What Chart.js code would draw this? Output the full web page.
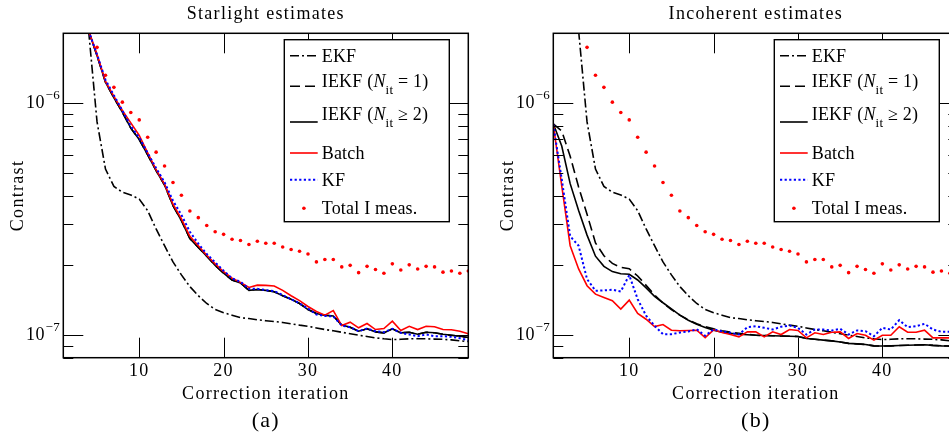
<!DOCTYPE html>
<html>
<head>
<meta charset="utf-8">
<script src="https://cdn.jsdelivr.net/npm/chart.js@4.4.1/dist/chart.umd.min.js"></script>
<style>
  html, body { margin: 0; padding: 0; background: #fff; }
  body { width: 949px; height: 433px; overflow: hidden; position: relative; }
  canvas { position: absolute; top: 0; }
  #starlightChart { left: 0; }
  #incoherentChart { left: 490px; }
</style>
</head>
<body>
<canvas id="starlightChart" width="480" height="433"></canvas>
<canvas id="incoherentChart" width="480" height="433"></canvas>
<script>
// Correction iterations (x axis)
const iterations = [1, 2, 3, 4, 5, 6, 7, 8, 9, 10, 11, 12, 13, 14, 15, 16, 17, 18, 19, 20,
  21, 22, 23, 24, 25, 26, 27, 28, 29, 30, 31, 32, 33, 34, 35, 36, 37, 38, 39, 40,
  41, 42, 43, 44, 45, 46, 47, 48, 49];

// Tick labels
const xTicks = [10, 20, 30, 40];
const yTickValues = [8e-8, 9e-8, 1e-7, 2e-7, 3e-7, 4e-7, 5e-7, 6e-7, 7e-7, 8e-7, 9e-7, 1e-6, 2e-6];
const yMajorValues = [1e-7, 1e-6];
const yMajorBase = '10';
const yMajorExponents = ['−7', '−6'];

// Shared by both panels
const ekf = [null, null, null, 2.05e-6, 8.3e-7, 5.2e-7, 4.38e-7, 4.13e-7, 4.02e-7, 3.86e-7,
  3.44e-7, 2.87e-7, 2.43e-7, 2.07e-7, 1.82e-7, 1.62e-7, 1.48e-7, 1.37e-7, 1.29e-7, 1.25e-7,
  1.22e-7, 1.19e-7, 1.18e-7, 1.166e-7, 1.155e-7, 1.146e-7, 1.135e-7, 1.12e-7, 1.105e-7, 1.093e-7,
  1.075e-7, 1.058e-7, 1.045e-7, 1.03e-7, 1.015e-7, 1.0e-7, 9.87e-8, 9.74e-8, 9.65e-8, 9.58e-8,
  9.6e-8, 9.65e-8, 9.65e-8, 9.65e-8, 9.62e-8, 9.6e-8, 9.55e-8, 9.46e-8, 9.39e-8];

const totalMeas = [null, null, null, null, 1.74e-6, 1.32e-6, 1.17e-6, 1.01e-6, 9.12e-7, 8.47e-7,
  7.13e-7, 6.15e-7, 5.36e-7, 4.55e-7, 4.01e-7, 3.43e-7, 3.21e-7, 2.97e-7, 2.79e-7, 2.72e-7,
  2.59e-7, 2.56e-7, 2.46e-7, 2.54e-7, 2.49e-7, 2.49e-7, 2.40e-7, 2.34e-7, 2.30e-7, 2.24e-7,
  2.07e-7, 2.12e-7, 2.12e-7, 1.97e-7, 2.00e-7, 1.86e-7, 1.98e-7, 1.92e-7, 1.85e-7, 2.03e-7,
  1.91e-7, 2.01e-7, 1.93e-7, 1.98e-7, 1.97e-7, 1.87e-7, 1.89e-7, 1.85e-7, 1.89e-7];

// (a) Starlight estimates
const starIekf = [null, null, null, 2.05e-6, 1.60e-6, 1.23e-6, 1.054e-6, 9.14e-7, 7.80e-7, 6.97e-7,
  5.98e-7, 5.12e-7, 4.44e-7, 3.62e-7, 3.12e-7, 2.61e-7, 2.39e-7, 2.19e-7, 2.00e-7, 1.85e-7,
  1.73e-7, 1.68e-7, 1.56e-7, 1.575e-7, 1.56e-7, 1.54e-7, 1.48e-7, 1.43e-7, 1.37e-7, 1.29e-7,
  1.24e-7, 1.22e-7, 1.21e-7, 1.105e-7, 1.083e-7, 1.04e-7, 1.066e-7, 1.034e-7, 1.024e-7, 1.066e-7,
  1.024e-7, 1.03e-7, 1.01e-7, 1.03e-7, 1.024e-7, 1.01e-7, 1.0e-7, 9.9e-8, 9.77e-8];
const starIekf1 = starIekf;

const starBatch = [null, null, null, 2.05e-6, 1.62e-6, 1.24e-6, 1.07e-6, 9.3e-7, 8.22e-7, 7.26e-7,
  6.1e-7, 5.17e-7, 4.48e-7, 3.67e-7, 3.17e-7, 2.67e-7, 2.43e-7, 2.21e-7, 2.03e-7, 1.877e-7,
  1.762e-7, 1.69e-7, 1.607e-7, 1.644e-7, 1.64e-7, 1.63e-7, 1.56e-7, 1.48e-7, 1.41e-7, 1.33e-7,
  1.265e-7, 1.22e-7, 1.278e-7, 1.10e-7, 1.138e-7, 1.076e-7, 1.123e-7, 1.058e-7, 1.069e-7, 1.149e-7,
  1.048e-7, 1.093e-7, 1.058e-7, 1.093e-7, 1.087e-7, 1.058e-7, 1.055e-7, 1.04e-7, 1.014e-7];

const starKf = [null, null, null, 2.05e-6, 1.62e-6, 1.26e-6, 1.08e-6, 9.3e-7, 7.95e-7, 7.1e-7,
  6.1e-7, 5.25e-7, 4.56e-7, 3.8e-7, 3.30e-7, 2.79e-7, 2.48e-7, 2.24e-7, 2.06e-7, 1.897e-7,
  1.757e-7, 1.70e-7, 1.585e-7, 1.585e-7, 1.565e-7, 1.549e-7, 1.49e-7, 1.43e-7, 1.37e-7, 1.304e-7,
  1.228e-7, 1.21e-7, 1.205e-7, 1.10e-7, 1.083e-7, 1.04e-7, 1.069e-7, 1.04e-7, 1.03e-7, 1.066e-7,
  1.024e-7, 1.007e-7, 9.9e-8, 1.007e-7, 9.9e-8, 9.9e-8, 9.84e-8, 9.71e-8, 9.52e-8];

// (b) Incoherent estimates
const incIekf1 = [8.14e-7, 7.59e-7, 5.9e-7, 4.35e-7, 3.32e-7, 2.5e-7, 2.2e-7, 2.04e-7, 1.96e-7, 1.935e-7,
  1.80e-7, 1.64e-7, 1.49e-7, 1.375e-7, 1.29e-7, 1.22e-7, 1.165e-7, 1.12e-7, 1.088e-7, 1.065e-7,
  1.045e-7, 1.03e-7, 1.02e-7, 1.01e-7, 1.0e-7, 9.97e-8, 9.95e-8, 9.92e-8, 9.9e-8, 9.88e-8,
  9.68e-8, 9.6e-8, 9.52e-8, 9.45e-8, 9.35e-8, 9.22e-8, 9.18e-8, 9.12e-8, 9.0e-8, 8.98e-8,
  9.0e-8, 9.03e-8, 9.05e-8, 9.07e-8, 9.1e-8, 9.04e-8, 9.0e-8, 8.98e-8, 8.97e-8];

const incIekf = [8.14e-7, 6.54e-7, 4.5e-7, 3.45e-7, 2.7e-7, 2.19e-7, 1.98e-7, 1.88e-7, 1.84e-7, 1.83e-7,
  1.73e-7, 1.60e-7, 1.47e-7, 1.38e-7, 1.30e-7, 1.22e-7, 1.16e-7, 1.116e-7, 1.08e-7, 1.05e-7,
  1.03e-7, 1.02e-7, 1.01e-7, 1.005e-7, 1.0e-7, 9.97e-8, 9.95e-8, 9.92e-8, 9.9e-8, 9.88e-8,
  9.68e-8, 9.6e-8, 9.52e-8, 9.45e-8, 9.35e-8, 9.22e-8, 9.18e-8, 9.12e-8, 9.0e-8, 8.98e-8,
  9.0e-8, 9.03e-8, 9.05e-8, 9.07e-8, 9.1e-8, 9.04e-8, 9.0e-8, 8.98e-8, 8.97e-8];

const incBatch = [8.1e-7, 4.4e-7, 2.43e-7, 1.93e-7, 1.634e-7, 1.503e-7, 1.454e-7, 1.408e-7, 1.295e-7, 1.416e-7,
  1.241e-7, 1.172e-7, 1.09e-7, 1.112e-7, 1.051e-7, 1.045e-7, 1.048e-7, 1.051e-7, 9.77e-8, 1.055e-7,
  1.027e-7, 1.007e-7, 9.84e-8, 1.034e-7, 1.034e-7, 9.84e-8, 1.034e-7, 1.007e-7, 1.058e-7, 1.048e-7,
  9.74e-8, 1.024e-7, 1.007e-7, 1.03e-7, 1.034e-7, 9.68e-8, 1.017e-7, 1.0e-7, 9.52e-8, 1.0e-7,
  1.0e-7, 1.087e-7, 1.03e-7, 1.03e-7, 1.051e-7, 9.74e-8, 9.74e-8, 9.74e-8, 9.74e-8];

const incKf = [8.1e-7, 4.7e-7, 2.67e-7, 2.43e-7, 1.745e-7, 1.554e-7, 1.56e-7, 1.57e-7, 1.544e-7, 1.815e-7,
  1.43e-7, 1.213e-7, 1.098e-7, 1.01e-7, 1.01e-7, 1.027e-7, 1.037e-7, 1.061e-7, 9.94e-8, 1.061e-7,
  1.04e-7, 1.024e-7, 1.007e-7, 1.083e-7, 1.093e-7, 1.076e-7, 1.058e-7, 1.087e-7, 1.101e-7, 1.076e-7,
  1.007e-7, 1.058e-7, 1.058e-7, 1.048e-7, 1.066e-7, 1.007e-7, 1.048e-7, 1.04e-7, 9.9e-8, 1.076e-7,
  1.058e-7, 1.161e-7, 1.083e-7, 1.093e-7, 1.12e-7, 1.058e-7, 1.034e-7, 1.034e-7, 1.034e-7];

const serif = '"Liberation Serif", "Times New Roman", serif';
Chart.defaults.font.family = serif;
Chart.defaults.color = '#000';

// Axis text in the figure is a little tracked out
const textSpacing = {
  id: 'textSpacing',
  beforeDraw(chart) {
    chart.ctx.letterSpacing = '1.3px';
  }
};

// Inward ticks on all four sides, the frame, and 10^n labels
const frameTicks = {
  id: 'frameTicks',
  afterDatasetsDraw(chart) {
    const { ctx, chartArea: a, scales: { x, y } } = chart;
    ctx.save();
    ctx.strokeStyle = '#000';
    ctx.lineWidth = 1;
    ctx.beginPath();
    x.ticks.forEach(t => {
      const px = Math.round(x.getPixelForValue(t.value)) + 0.5;
      ctx.moveTo(px, a.bottom); ctx.lineTo(px, a.bottom - 20);
      ctx.moveTo(px, a.top); ctx.lineTo(px, a.top + 20);
    });
    y.ticks.forEach(t => {
      const py = Math.round(y.getPixelForValue(t.value)) + 0.5;
      const exp = Math.log10(t.value);
      const len = Math.abs(exp - Math.round(exp)) < 1e-6 ? 20 : 10;
      ctx.moveTo(a.left, py); ctx.lineTo(a.left + len, py);
      ctx.moveTo(a.right, py); ctx.lineTo(a.right - len, py);
    });
    ctx.stroke();
    ctx.lineWidth = 1.5;
    ctx.strokeRect(a.left, a.top, a.right - a.left, a.bottom - a.top);

    // y labels: 10 with a raised exponent
    ctx.fillStyle = '#000';
    ctx.letterSpacing = '0.5px';
    yMajorValues.forEach((v, k) => {
      const py = y.getPixelForValue(v);
      const right = a.left - 18.3;
      ctx.font = '18px ' + serif;
      ctx.textAlign = 'right';
      ctx.textBaseline = 'middle';
      ctx.fillText(yMajorBase, right, py);
      ctx.font = '13px ' + serif;
      ctx.textAlign = 'left';
      ctx.textBaseline = 'alphabetic';
      ctx.fillText(yMajorExponents[k], right + 0.5, py - 4.5);
    });
    ctx.restore();
  }
};

const legendFont = '18px ' + serif;
const legendSubFont = '13px ' + serif;
const legendTextRows = [16.3, 41.3, 74.5, 113.6, 140.6, 168.3];
const legendLineRows = [16, 46.6, 82.3, 113.3, 140, 168.6];

function drawLegendLabel(ctx, label, x, baseline) {
  ctx.fillStyle = '#000';
  ctx.textAlign = 'left';
  ctx.textBaseline = 'alphabetic';
  ctx.font = legendFont;
  const m = label.match(/^(.*)N_it(.*)$/);
  if (!m) {
    ctx.fillText(label, x, baseline);
    return;
  }
  ctx.fillText(m[1], x, baseline);
  x += ctx.measureText(m[1]).width;
  ctx.font = 'italic ' + legendFont;
  ctx.fillText('N', x, baseline);
  x += ctx.measureText('N').width;
  ctx.font = legendSubFont;
  ctx.fillText('it', x, baseline + 7);
  x += ctx.measureText('it').width;
  ctx.font = legendFont;
  ctx.fillText(m[2], x, baseline);
}

// Boxed legend in the upper right of the plot
const boxLegend = {
  id: 'boxLegend',
  afterDraw(chart) {
    const { ctx, chartArea } = chart;
    const left = chartArea.left + 221;
    const top = chartArea.top + 6.4;
    ctx.save();
    ctx.letterSpacing = '0.2px';
    ctx.fillStyle = '#fff';
    ctx.fillRect(left, top, 165, 182);
    ctx.strokeStyle = '#000';
    ctx.lineWidth = 1.4;
    ctx.strokeRect(left, top, 165, 182);
    chart.data.datasets.forEach((ds, i) => {
      const ly = top + legendLineRows[i];
      if (ds.showLine === false) {
        ctx.fillStyle = ds.pointBackgroundColor;
        ctx.beginPath();
        ctx.arc(left + 19.6, ly, ds.pointRadius, 0, Math.PI * 2);
        ctx.fill();
      } else {
        ctx.strokeStyle = ds.borderColor;
        ctx.lineWidth = ds.borderWidth;
        ctx.setLineDash(ds.borderDash || []);
        ctx.beginPath();
        ctx.moveTo(left + 5.7, ly);
        ctx.lineTo(left + 33.4, ly);
        ctx.stroke();
        ctx.setLineDash([]);
      }
      drawLegendLabel(ctx, ds.label, left + 37.4, top + legendTextRows[i] + 6);
    });
    ctx.restore();
  }
};

function lineSet(label, data, color, dash, width) {
  return {
    label, data,
    borderColor: color,
    borderWidth: width,
    borderDash: dash,
    pointRadius: 0,
    tension: 0,
    fill: false
  };
}

function buildChart(canvasId, title, caption, series) {
  const datasets = [
    lineSet('EKF', series.ekf, '#000', [9, 3, 2, 3], 1.6),
    lineSet('IEKF (N_it = 1)', series.iekf1, '#000', [10, 5], 1.6),
    lineSet('IEKF (N_it ≥ 2)', series.iekf, '#000', [], 1.6),
    lineSet('Batch', series.batch, '#ff0000', [], 1.6),
    lineSet('KF', series.kf, '#0000ff', [2.2, 2.4], 2),
    {
      label: 'Total I meas.',
      data: series.total,
      showLine: false,
      pointRadius: 1.8,
      pointBorderWidth: 0,
      pointBackgroundColor: '#ff0000',
      borderColor: '#ff0000'
    }
  ];
  // later series are drawn on top
  datasets.forEach((ds, i) => { ds.order = datasets.length - i; });

  return new Chart(document.getElementById(canvasId), {
    type: 'line',
    data: { labels: iterations, datasets },
    options: {
      responsive: false,
      animation: false,
      layout: { padding: { left: 0, right: 11.7, top: 0, bottom: 0 } },
      plugins: {
        legend: { display: false },
        tooltip: { enabled: false },
        title: {
          display: true,
          text: title,
          fullSize: false,
          font: { size: 18, weight: 'normal' },
          padding: { top: 3.5, bottom: 8.2 }
        },
        subtitle: {
          display: true,
          text: caption,
          position: 'bottom',
          fullSize: false,
          font: { size: 22, weight: 'normal', lineHeight: 1 },
          padding: { top: 2.5, bottom: 0.8 }
        }
      },
      scales: {
        x: {
          type: 'linear',
          min: 1,
          max: 49,
          grid: { display: false, drawTicks: false },
          border: { display: false },
          ticks: { font: { size: 18 }, padding: 3, autoSkip: false, maxRotation: 0 },
          afterBuildTicks: scale => { scale.ticks = xTicks.map(v => ({ value: v })); },
          afterFit: scale => { scale.height = 50; },
          title: {
            display: true,
            text: 'Correction iteration',
            font: { size: 18 },
            padding: { top: 0, bottom: 2.9 }
          }
        },
        y: {
          type: 'logarithmic',
          min: 8e-8,
          max: 2e-6,
          grid: { display: false, drawTicks: false },
          border: { display: false },
          ticks: { display: false, autoSkip: false },
          afterBuildTicks: scale => { scale.ticks = yTickValues.map(v => ({ value: v })); },
          afterFit: scale => { scale.width = 63.3; },
          title: {
            display: true,
            text: 'Contrast',
            font: { size: 18 },
            padding: { top: 7.2, bottom: 0 }
          }
        }
      }
    },
    plugins: [textSpacing, frameTicks, boxLegend]
  });
}

buildChart('starlightChart', 'Starlight estimates', '(a)', {
  ekf, iekf1: starIekf1, iekf: starIekf, batch: starBatch, kf: starKf, total: totalMeas
});
buildChart('incoherentChart', 'Incoherent estimates', '(b)', {
  ekf, iekf1: incIekf1, iekf: incIekf, batch: incBatch, kf: incKf, total: totalMeas
});
</script>
</body>
</html>
